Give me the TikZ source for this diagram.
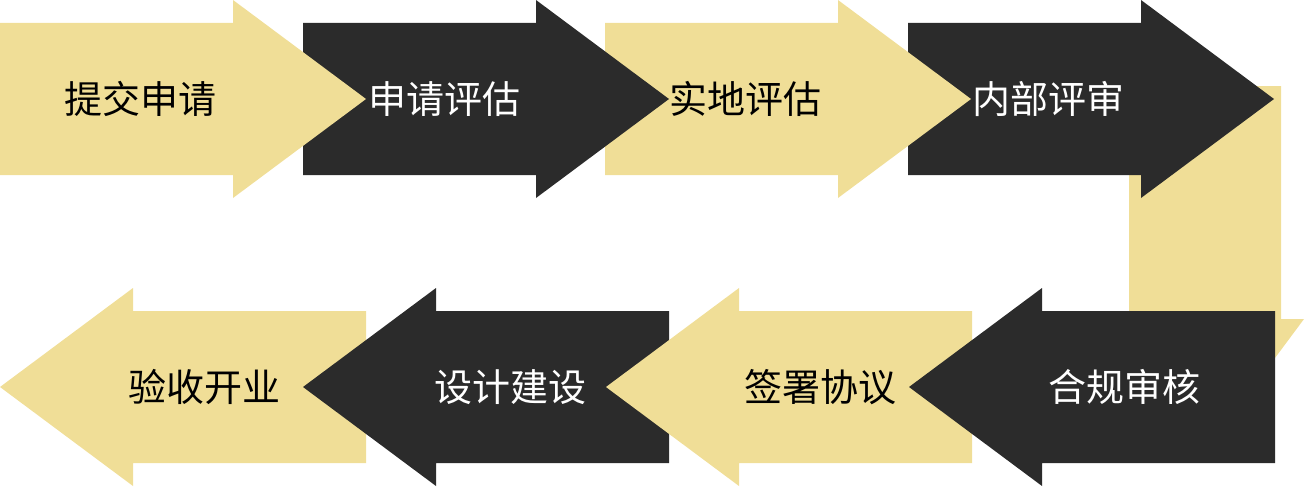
\documentclass[tikz,border=0pt]{standalone}
\usepackage{fontspec}
\newfontfamily\cjk{Noto Sans CJK SC}
\definecolor{tanc}{HTML}{F0DE97}
\definecolor{darkc}{HTML}{2B2B2B}
\tikzset{
  rarrowpic/.pic={\path[pic actions] (0,-76) -- (233,-76) -- (233,-99) -- (366,0) -- (233,99) -- (233,76) -- (0,76) -- cycle;},
  larrowpic/.pic={\path[pic actions] (0,0) -- (133,-99) -- (133,-76) -- (366,-76) -- (366,76) -- (133,76) -- (133,99) -- cycle;},
  tanshape/.style={fill=tanc},
  darkshape/.style={fill=darkc},
  lbl/.style={inner sep=0pt, font=\cjk\fontsize{38}{40}\selectfont},
  ondark/.style={lbl, text=white},
  ontan/.style={lbl, text=black},
}
\begin{document}
\begin{tikzpicture}[x=1pt,y=-1pt]
\useasboundingbox (0,0) rectangle (1305,487);
% vertical connector arrow (behind)
\path[tanshape] (1129,86) -- (1281,86) -- (1281,319) -- (1304,319) -- (1205,452) -- (1106,319) -- (1129,319) -- cycle;
% bottom row (right to left), later drawn first
\pic[tanshape] at (0,387) {larrowpic};
\pic[darkshape] at (303,387) {larrowpic};
\pic[tanshape] at (606,387) {larrowpic};
\pic[darkshape] at (909,387) {larrowpic};
% top row
\pic[darkshape] at (908,99) {rarrowpic};
\pic[tanshape] at (605,99) {rarrowpic};
\pic[darkshape] at (303,99) {rarrowpic};
\pic[tanshape] at (0,99) {rarrowpic};
% labels
\node[ontan]  (s1) at (140,99) {提交申请};
\node[ondark] (s2) at (444,99) {申请评估};
\node[ontan]  (s3) at (745,99) {实地评估};
\node[ondark] (s4) at (1048,99) {内部评审};
\node[ondark] (s5) at (1124,387) {合规审核};
\node[ontan]  (s6) at (820,387) {签署协议};
\node[ondark] (s7) at (510,387) {设计建设};
\node[ontan]  (s8) at (204,387) {验收开业};
\end{tikzpicture}
\end{document}
